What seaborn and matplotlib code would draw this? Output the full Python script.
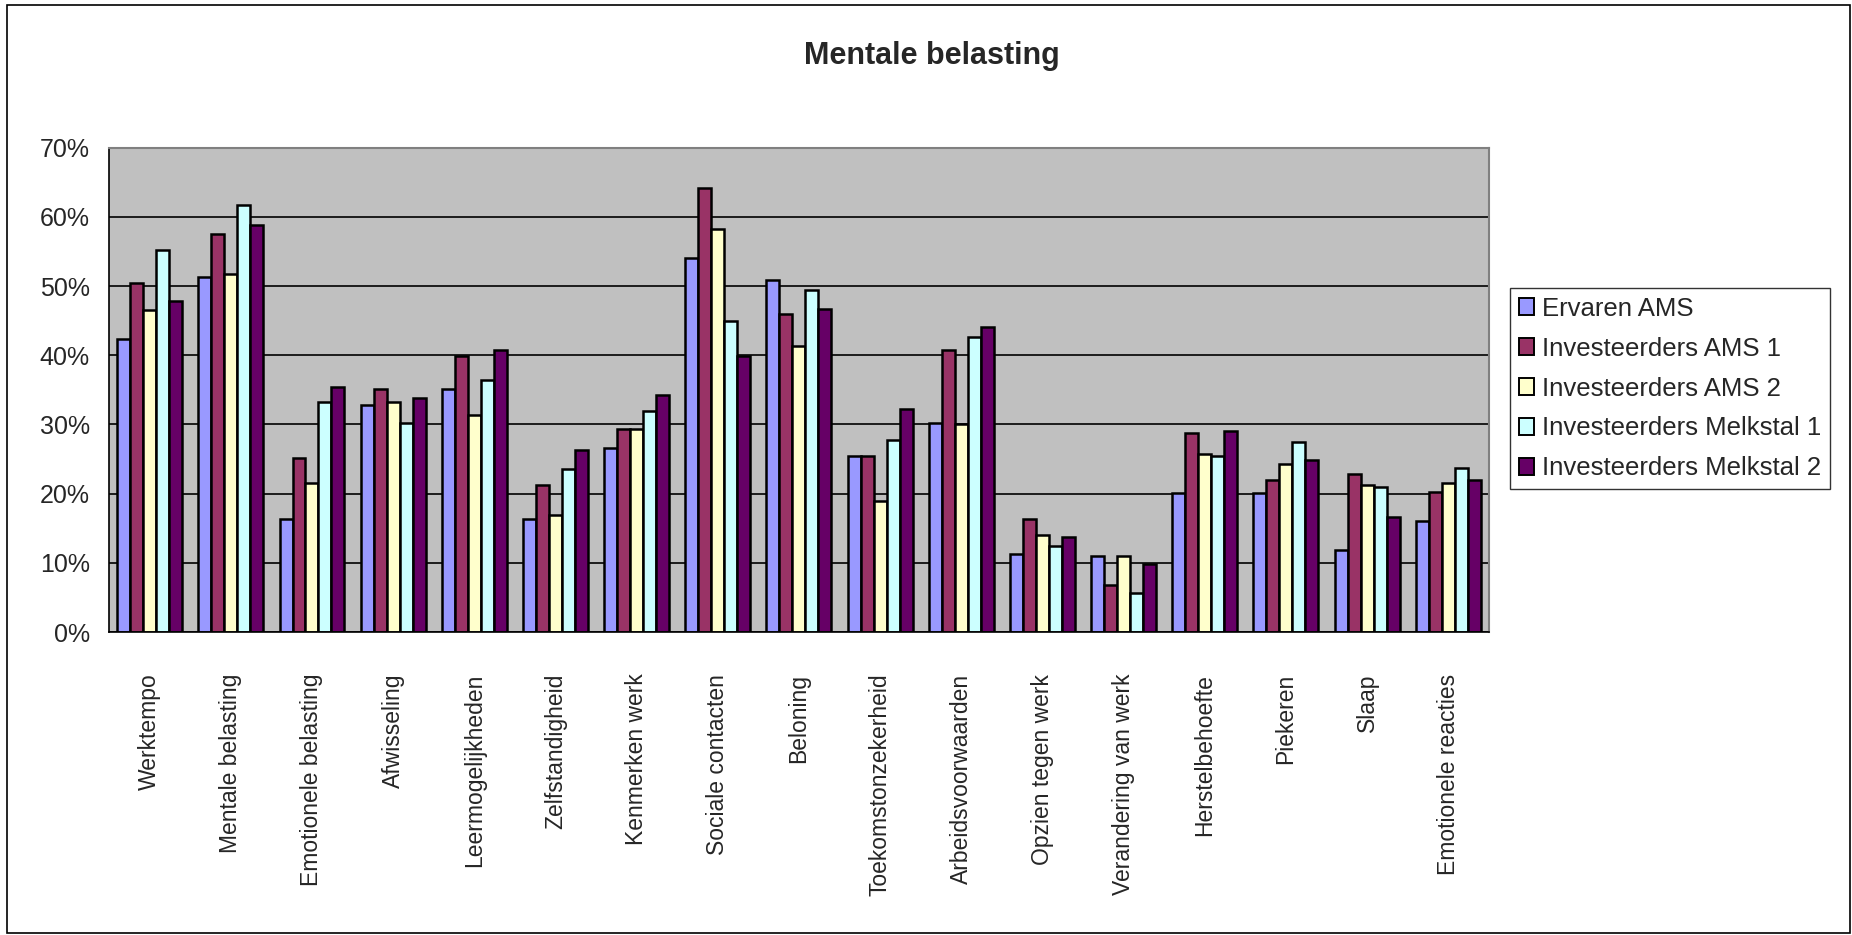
import numpy as np
import pandas as pd
import matplotlib
matplotlib.use('Agg')
import matplotlib.pyplot as plt
import seaborn as sns
from matplotlib.ticker import PercentFormatter, FixedLocator

# categories and series values (percent)
categories = ['Werktempo', 'Mentale belasting', 'Emotionele belasting', 'Afwisseling',
              'Leermogelijkheden', 'Zelfstandigheid', 'Kenmerken werk', 'Sociale contacten',
              'Beloning', 'Toekomstonzekerheid', 'Arbeidsvoorwaarden', 'Opzien tegen werk',
              'Verandering van werk', 'Herstelbehoefte', 'Piekeren', 'Slaap',
              'Emotionele reacties']

series = ['Ervaren AMS', 'Investeerders AMS 1', 'Investeerders AMS 2',
          'Investeerders Melkstal 1', 'Investeerders Melkstal 2']

ervaren_ams = [42.4, 51.3, 16.4, 32.8, 35.1, 16.4, 26.6, 54.1, 50.9, 25.5,
               30.2, 11.3, 11.0, 20.1, 20.1, 11.9, 16.1]
inv_ams_1 = [50.4, 57.5, 25.2, 35.1, 39.9, 21.2, 29.4, 64.2, 45.9, 25.5,
             40.7, 16.4, 6.8, 28.8, 22.0, 22.9, 20.3]
inv_ams_2 = [46.6, 51.8, 21.5, 33.3, 31.4, 16.9, 29.4, 58.3, 41.3, 18.9,
             30.0, 14.1, 11.0, 25.7, 24.3, 21.2, 21.5]
inv_melk_1 = [55.2, 61.7, 33.3, 30.2, 36.5, 23.5, 31.9, 45.0, 49.5, 27.7,
              42.7, 12.4, 5.6, 25.5, 27.4, 20.9, 23.7]
inv_melk_2 = [47.8, 58.9, 35.4, 33.9, 40.7, 26.3, 34.2, 39.9, 46.7, 32.3,
              44.1, 13.8, 9.9, 29.1, 24.9, 16.7, 22.0]

colors = ['#9999FF', '#993366', '#FFFFCC', '#CCFFFF', '#660066']

# long table for seaborn
rows = []
for name, vals in zip(series, [ervaren_ams, inv_ams_1, inv_ams_2, inv_melk_1, inv_melk_2]):
    for cat, v in zip(categories, vals):
        rows.append({'Categorie': cat, 'Groep': name, 'Waarde': v})
df = pd.DataFrame(rows)

sns.set_style('white')
plt.rcParams['font.family'] = ['Liberation Sans', 'DejaVu Sans']

fig = plt.figure(figsize=(18.52, 9.35), dpi=100)
ax = fig.add_axes([0.0589, 0.324, 0.745, 0.518])

sns.barplot(data=df, x='Categorie', y='Waarde', hue='Groep', hue_order=series,
            palette=colors, edgecolor='black', linewidth=1.8, width=0.8,
            saturation=1, ax=ax)

ax.set_facecolor('#C0C0C0')
ax.set_ylim(0, 70)
ax.set_xlim(-0.5, len(categories) - 0.5)
ax.set_yticks(np.arange(0, 71, 10))
ax.yaxis.set_major_formatter(PercentFormatter(decimals=0))
ax.yaxis.grid(True, color='black', linewidth=1.2)
ax.set_axisbelow(True)

# x tick marks between the groups, labels in the middle
ax.xaxis.set_minor_locator(FixedLocator(np.arange(-0.5, len(categories), 1)))
ax.tick_params(axis='x', which='major', length=0, pad=30, labelsize=16.5, labelrotation=90)
ax.tick_params(axis='x', which='minor', length=8, width=1.2, color='black', direction='out')
ax.tick_params(axis='y', which='major', length=8, width=1.2, color='black',
               direction='out', labelsize=18, pad=6)
plt.setp(ax.get_xticklabels(), va='top', ha='center')

for side in ['top', 'right']:
    ax.spines[side].set_color('#808080')
    ax.spines[side].set_linewidth(1.5)
for side in ['left', 'bottom']:
    ax.spines[side].set_color('black')
    ax.spines[side].set_linewidth(1.2)

ax.set_xlabel('')
ax.set_ylabel('')

fig.text(0.503, 0.94, 'Mentale belasting', ha='center', va='center',
         fontsize=22, fontweight='bold')

leg = ax.legend(loc='upper left', bbox_to_anchor=(1.015, 0.711), frameon=True,
                fancybox=False, edgecolor='black', fontsize=18.5, handlelength=0.6,
                handleheight=0.6, handletextpad=0.3, labelspacing=0.62,
                borderpad=0.35, borderaxespad=0)
leg.get_frame().set_linewidth(1.0)
for h in leg.legend_handles:
    h.set_edgecolor('black')
    h.set_linewidth(1.4)

# outer chart border
fig.patches.append(plt.Rectangle((0.004, 0.002), 0.995, 0.993, transform=fig.transFigure,
                                 fill=False, edgecolor='black', linewidth=1.2))

fig.savefig('out.png', dpi=100, facecolor='white')
